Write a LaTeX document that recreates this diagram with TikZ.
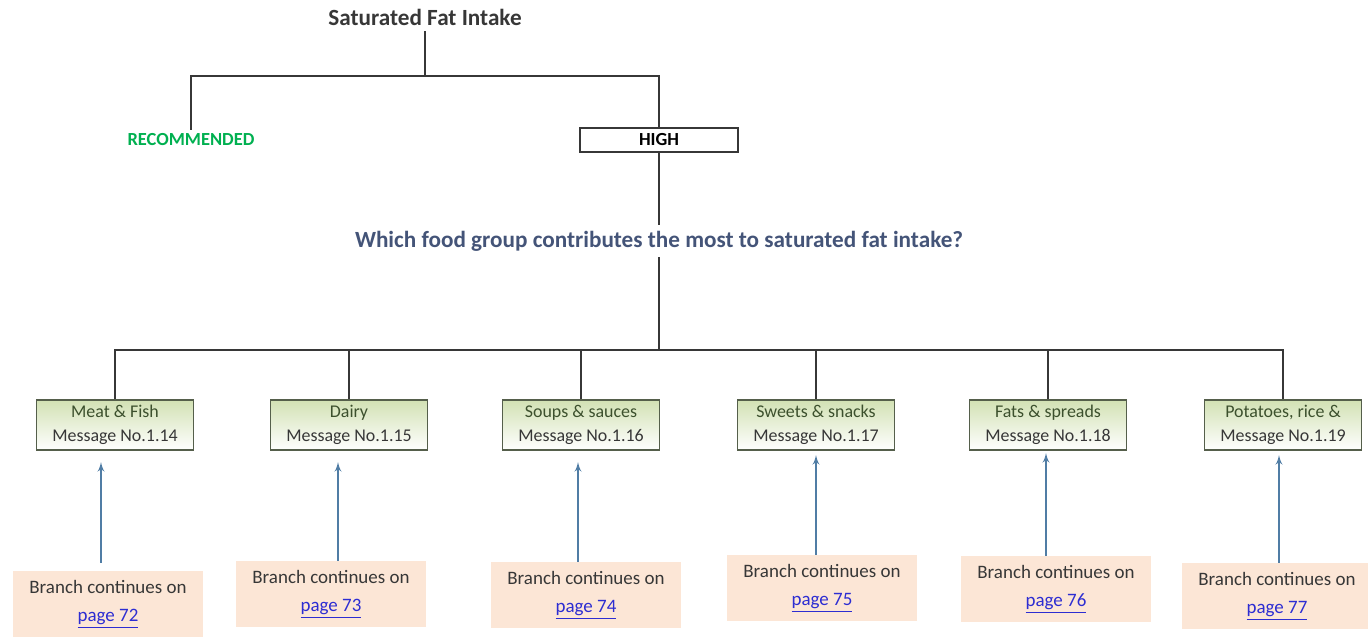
\documentclass[tikz,border=0pt]{standalone}
\usepackage{fontspec}
\setmainfont{Carlito}
\usetikzlibrary{positioning, arrows}

\definecolor{treegrey}{RGB}{55,55,55}
\definecolor{askblue}{RGB}{68,84,120}
\definecolor{recgreen}{RGB}{0,176,80}
\definecolor{msggreen}{RGB}{210,225,180}
\definecolor{msgframe}{RGB}{85,95,75}
\definecolor{msgtext}{RGB}{60,80,45}
\definecolor{branchpeach}{RGB}{252,230,214}
\definecolor{arrowblue}{RGB}{80,125,165}
\definecolor{linkblue}{RGB}{45,45,210}

\tikzset{
	treeline/.style={draw=treegrey, line width=0.9pt},
	linkarrow/.style={draw=arrowblue, line width=0.9pt, -latex'},
	msgbox/.style={rectangle, draw=msgframe, line width=1pt, top color=msggreen, bottom color=white,
		minimum width=3.14cm, minimum height=1cm, align=center, inner sep=1pt,
		font=\fontsize{10.2}{14}\selectfont, text=treegrey},
	pagebox/.style={rectangle, fill=branchpeach, minimum width=3.8cm, minimum height=1.32cm,
		align=center, inner sep=1pt, font=\fontsize{10.8}{16}\selectfont, text=treegrey},
	levelbox/.style={rectangle, draw=treegrey, line width=0.9pt, minimum width=3.16cm,
		minimum height=0.48cm, inner sep=0pt, font=\bfseries\fontsize{10.5}{12}\selectfont}
}
\newcommand{\msgtitle}[1]{\textcolor{msgtext}{#1}}
\newcommand{\pagelink}[1]{\textcolor{linkblue}{\underline{#1}}}

\begin{document}
\begin{tikzpicture}[x=0.02cm, y=-0.02cm]
		
		\useasboundingbox (0,0) rectangle (1368,636);
		
		%Top of the tree
		\node [font=\bfseries\fontsize{13.2}{15}\selectfont, text=treegrey] (title) at (425,17) {Saturated Fat Intake};
		\coordinate (split) at (425,76);
		
		\node [font=\bfseries\fontsize{10.5}{12}\selectfont, text=recgreen, inner sep=2pt] (rec) at (191,140) {RECOMMENDED};
		
		\node [levelbox] (high) at (659,140) {HIGH};
		
		\node [font=\bfseries\fontsize{13.2}{15}\selectfont, text=askblue] (ask) at (659,241) 
		{Which food group contributes the most to saturated fat intake?};
		\coordinate (bus) at (659,350);
		
		%Message nodes
		\node [msgbox] (msgA) at (115,425) {\msgtitle{Meat \& Fish}\\Message No.1.14};
		\node [msgbox] (msgB) at (349,425) {\msgtitle{Dairy}\\Message No.1.15};
		\node [msgbox] (msgC) at (581,425) {\msgtitle{Soups \& sauces}\\Message No.1.16};
		\node [msgbox] (msgD) at (816,425) {\msgtitle{Sweets \& snacks}\\Message No.1.17};
		\node [msgbox] (msgE) at (1048,425) {\msgtitle{Fats \& spreads}\\Message No.1.18};
		\node [msgbox] (msgF) at (1283,425) {\msgtitle{Potatoes, rice \&}\\Message No.1.19};
		
		%Page nodes
		\node [pagebox] (pageA) at (108,604) {Branch continues on\\\pagelink{page 72}};
		\node [pagebox] (pageB) at (331,594) {Branch continues on\\\pagelink{page 73}};
		\node [pagebox] (pageC) at (586,595) {Branch continues on\\\pagelink{page 74}};
		\node [pagebox] (pageD) at (822,588) {Branch continues on\\\pagelink{page 75}};
		\node [pagebox] (pageE) at (1056,589) {Branch continues on\\\pagelink{page 76}};
		\node [pagebox] (pageF) at (1277,596) {Branch continues on\\\pagelink{page 77}};
		
		%Arrow tips
		\coordinate (tipA) at (101,462);
		\coordinate (tipB) at (338,462);
		\coordinate (tipC) at (578,462);
		\coordinate (tipD) at (816,455);
		\coordinate (tipE) at (1046,453);
		\coordinate (tipF) at (1279,455);
		
		%Links
		\path [treeline] (title) -- (split);
		\path [treeline] (split) -| (rec.north);
		\path [treeline] (split) -| (high.north);
		\path [treeline] (high) -- (ask);
		\path [treeline] (ask) -- (bus);
		\path [treeline] (msgA.north) |- (bus) -| (msgF.north);
		\path [treeline] (msgB.north) -- (msgB.north |- bus);
		\path [treeline] (msgC.north) -- (msgC.north |- bus);
		\path [treeline] (msgD.north) -- (msgD.north |- bus);
		\path [treeline] (msgE.north) -- (msgE.north |- bus);
		
		%Branch arrows
		\path [linkarrow, shorten <=0.16cm] (tipA |- pageA.north) -- (tipA);
		\path [linkarrow] (tipB |- pageB.north) -- (tipB);
		\path [linkarrow] (tipC |- pageC.north) -- (tipC);
		\path [linkarrow] (tipD |- pageD.north) -- (tipD);
		\path [linkarrow] (tipE |- pageE.north) -- (tipE);
		\path [linkarrow] (tipF |- pageF.north) -- (tipF);
		
\end{tikzpicture}
\end{document}
